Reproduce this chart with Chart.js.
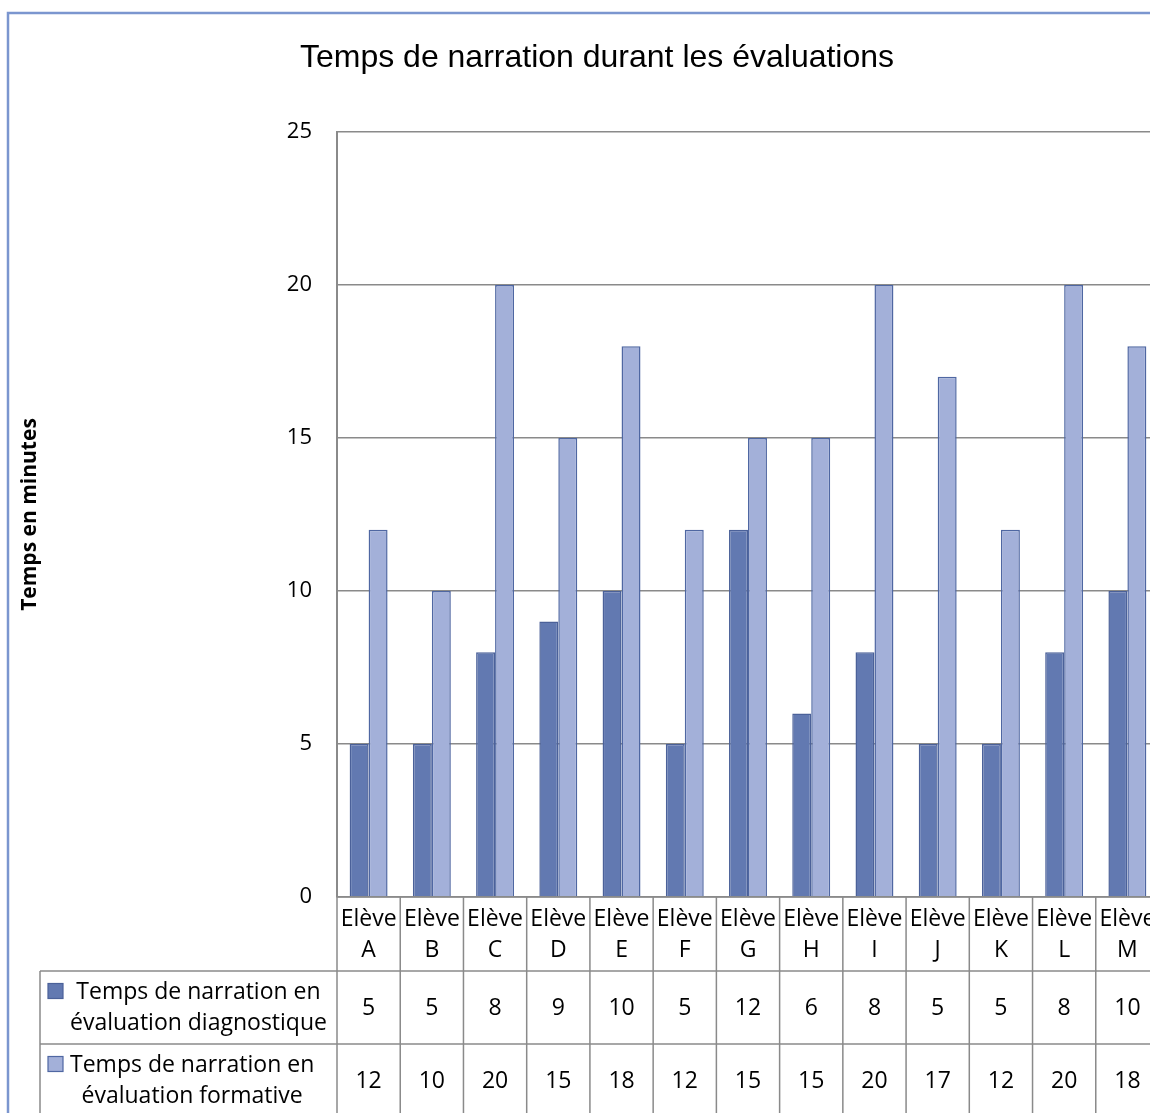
<!DOCTYPE html>
<html>
<head>
<meta charset="utf-8">
<title>Temps de narration durant les évaluations</title>
<script src="https://cdn.jsdelivr.net/npm/chart.js@4.4.1/dist/chart.umd.min.js"></script>
<style>
  html, body { margin: 0; padding: 0; background: #fff; overflow: hidden; }
  #wrap { width: 1194px; height: 1113px; }
</style>
</head>
<body>
<div id="wrap"><canvas id="narrationChart" width="1194" height="1113"></canvas></div>
<script>
const eleves = ["A", "B", "C", "D", "E", "F", "G", "H", "I", "J", "K", "L", "M"];
const diagnostique = [5, 5, 8, 9, 10, 5, 12, 6, 8, 5, 5, 8, 10];
const formative = [12, 10, 20, 15, 18, 12, 15, 15, 20, 17, 12, 20, 18];
const seriesNames = [
  ["Temps de narration en", "évaluation diagnostique"],
  ["Temps de narration en", "évaluation formative"]
];
const yTicks = [0, 5, 10, 15, 20, 25];
const chartTitle = "Temps de narration durant les évaluations";

const tableFont = "23px 'Open Sans'";
const gridGray = "#8a8a8a";

// draws the data table under the plot (category row + one row per series)
const dataTablePlugin = {
  id: "dataTable",
  afterDraw(chart) {
    const ctx = chart.ctx;
    const x = chart.scales.x;
    const area = chart.chartArea;
    const top = area.bottom;
    const headH = 74;
    const rowH = 73;
    const legendLeft = 40;
    const step = x.getPixelForValue(1) - x.getPixelForValue(0);
    const right = x.getPixelForValue(eleves.length - 1) + step / 2;

    ctx.save();
    ctx.strokeStyle = gridGray;
    ctx.lineWidth = 1.5;

    // horizontal lines
    ctx.beginPath();
    ctx.moveTo(area.left, top);
    ctx.lineTo(right, top);
    for (let r = 1; r <= 3; r++) {
      const y = top + headH + rowH * (r - 1);
      ctx.moveTo(legendLeft, y);
      ctx.lineTo(right, y);
    }
    ctx.moveTo(legendLeft, top + headH);
    ctx.lineTo(legendLeft, top + headH + rowH * 2);
    ctx.stroke();

    // vertical lines between categories
    ctx.beginPath();
    for (let i = 0; i <= eleves.length; i++) {
      const bx = x.getPixelForValue(i) - step / 2;
      ctx.moveTo(bx, top);
      ctx.lineTo(bx, top + headH + rowH * 2);
    }
    ctx.stroke();

    ctx.fillStyle = "#000";
    ctx.font = tableFont;
    ctx.textAlign = "center";
    ctx.textBaseline = "middle";

    // category labels
    eleves.forEach((e, i) => {
      const cx = x.getPixelForValue(i);
      ctx.fillText("Elève", cx, top + headH / 2 - 15);
      ctx.fillText(e, cx, top + headH / 2 + 16);
    });

    // values
    chart.data.datasets.forEach((ds, d) => {
      const cy = top + headH + rowH * d + rowH / 2;
      ds.data.forEach((v, i) => {
        ctx.fillText(String(v), x.getPixelForValue(i), cy + 1);
      });

      // legend cell: marker + centred two-line text
      const my = cy - 17;
      ctx.fillStyle = ds.backgroundColor;
      ctx.fillRect(48, my - 7, 15, 15);
      ctx.strokeStyle = ds.borderColor;
      ctx.lineWidth = 1.2;
      ctx.strokeRect(48, my - 7, 15, 15);

      ctx.fillStyle = "#000";
      const lines = seriesNames[d];
      const w = Math.max(...lines.map((l) => ctx.measureText(l).width));
      const tx = 70 + w / 2;
      ctx.fillText(lines[0], tx, cy - 15);
      ctx.fillText(lines[1], tx, cy + 16);
    });

    ctx.restore();
  },
};

// white background, title (centred on the whole chart frame) and outer blue border
const framePlugin = {
  id: "frame",
  beforeDraw(chart) {
    const ctx = chart.ctx;
    ctx.save();
    ctx.fillStyle = "#fff";
    ctx.fillRect(0, 0, chart.width, chart.height);
    ctx.restore();
  },
  afterDraw(chart) {
    const ctx = chart.ctx;
    ctx.save();
    ctx.fillStyle = "#000";
    ctx.font = "32px 'Liberation Sans', Arial, sans-serif";
    ctx.textAlign = "center";
    ctx.textBaseline = "middle";
    ctx.fillText(chartTitle, chart.width / 2, 58);

    ctx.strokeStyle = "#7b96cf";
    ctx.lineWidth = 2.5;
    ctx.strokeRect(8, 13, chart.width - 16, chart.height + 20);
    ctx.restore();
  },
};

new Chart(document.getElementById("narrationChart"), {
  type: "bar",
  data: {
    labels: eleves.map((e) => ["Elève", e]),
    datasets: [
      {
        label: seriesNames[0].join(" "),
        data: diagnostique,
        backgroundColor: "#6279b1",
        borderColor: "#4b6199",
        borderWidth: 1.5,
        categoryPercentage: 0.6,
        barPercentage: 1.0,
      },
      {
        label: seriesNames[1].join(" "),
        data: formative,
        backgroundColor: "#a3b0d9",
        borderColor: "#4f67a2",
        borderWidth: 1.5,
        categoryPercentage: 0.6,
        barPercentage: 1.0,
      },
    ],
  },
  options: {
    responsive: false,
    maintainAspectRatio: false,
    devicePixelRatio: 1,
    animation: false,
    layout: {
      padding: { left: 12, right: 35, top: 132, bottom: 216 },
    },
    plugins: {
      legend: { display: false },
      tooltip: { enabled: false },
      title: { display: false },
    },
    scales: {
      x: {
        display: false,
      },
      y: {
        min: 0,
        max: 25,
        afterBuildTicks(scale) {
          scale.ticks = yTicks.map((v) => ({ value: v }));
        },
        afterFit(scale) {
          scale.width = 325;
        },
        ticks: {
          color: "#000",
          padding: 25,
          font: { family: "'Open Sans'", size: 22 },
        },
        grid: {
          color: gridGray,
          lineWidth: 1.5,
          drawTicks: false,
        },
        border: { display: true, color: gridGray, width: 2 },
        title: {
          display: true,
          text: "Temps en minutes",
          color: "#000",
          font: { family: "'Open Sans'", size: 21, weight: "bold" },
          padding: { top: 5, bottom: 0 },
        },
      },
    },
  },
  plugins: [framePlugin, dataTablePlugin],
});
</script>
</body>
</html>
